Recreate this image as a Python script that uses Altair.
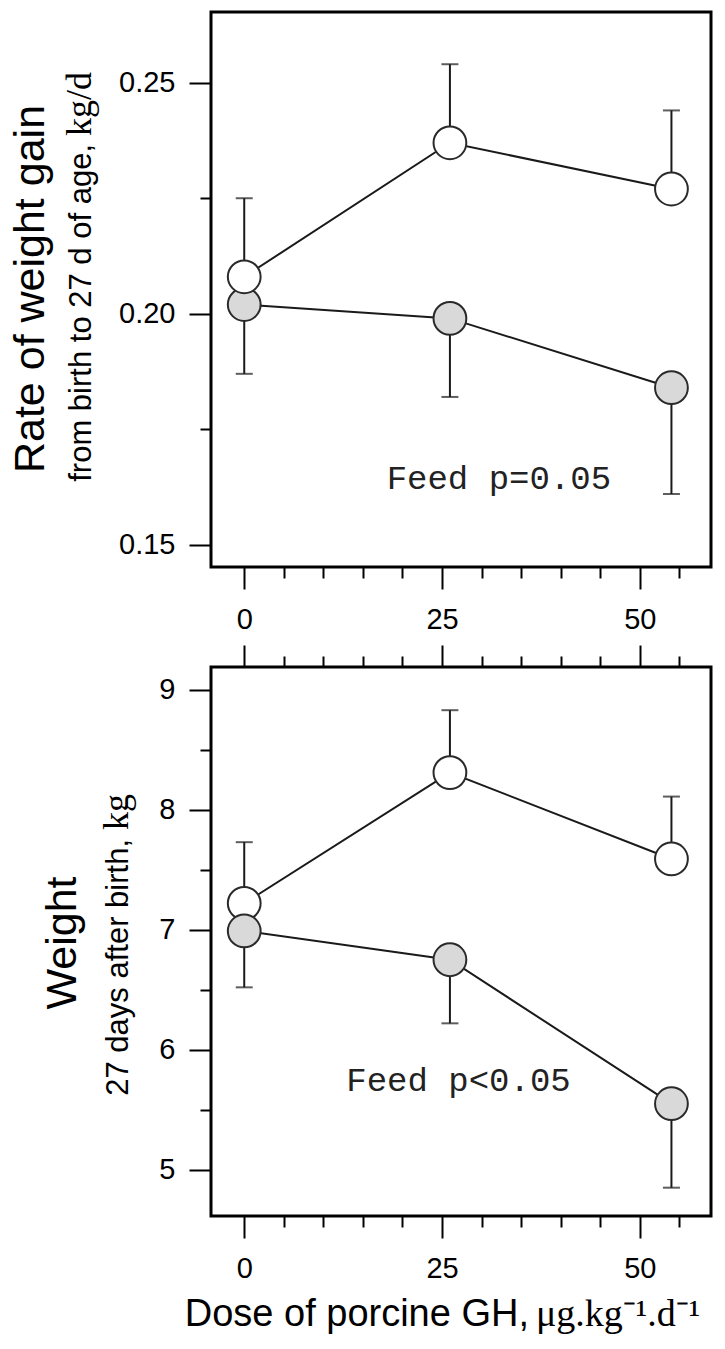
import altair as alt
import pandas as pd

# Dose of porcine GH (µg/kg/d) for each group mean
dose = [0, 26, 54]

# Rate of weight gain from birth to 27 d, kg/d
gain_open = [0.208, 0.237, 0.227]
gain_open_bar = [0.225, 0.254, 0.244]      # top of the error bar
gain_grey = [0.202, 0.199, 0.184]
gain_grey_bar = [0.187, 0.182, 0.161]      # bottom of the error bar

# Weight 27 days after birth, kg
weight_open = [7.22, 8.31, 7.59]
weight_open_bar = [7.73, 8.83, 8.11]
weight_grey = [6.99, 6.75, 5.55]
weight_grey_bar = [6.52, 6.22, 4.85]

x_ticks = list(range(0, 60, 5))
gain_ticks = [0.15, 0.175, 0.20, 0.225, 0.25]
weight_ticks = [5, 5.5, 6, 6.5, 7, 7.5, 8, 8.5, 9]

SANS = "Liberation Sans, Arial, Helvetica, sans-serif"
SERIF = "Liberation Serif, Times New Roman, serif"
MONO = "Courier New, Liberation Mono, monospace"
INK = "#1a1a1a"
GREY_FILL = "#d9d9d9"

PANEL_W = 500
X_DOMAIN = [-4.2, 59.0]
X_MAJOR = "datum.value % 25 === 0"


def x_axis(orient, labels):
    return alt.Axis(
        orient=orient,
        values=x_ticks,
        labels=labels,
        labelExpr=f"{X_MAJOR} ? datum.label : ''",
        tickSize={"condition": {"test": X_MAJOR, "value": 22}, "value": 11},
        labelPadding=16,
        title=None,
    )


def y_axis(ticks, major_test, label_format):
    return alt.Axis(
        orient="left",
        values=ticks,
        labelExpr=f"{major_test} ? format(datum.value, '{label_format}') : ''",
        tickSize={"condition": {"test": major_test, "value": 22}, "value": 11},
        labelPadding=14,
        title=None,
    )


def series(mean, bar):
    return pd.DataFrame({"dose": dose, "mean": mean, "bar": bar})


def rotated_text(text, x, y, size, font, align):
    return alt.Chart(pd.DataFrame({"t": [text]})).mark_text(
        angle=270, align=align, baseline="alphabetic", font=font,
        fontSize=size, color="black",
    ).encode(x=alt.value(x), y=alt.value(y), text="t:N")


def flat_text(text, x, y, size, font, align):
    return alt.Chart(pd.DataFrame({"t": [text]})).mark_text(
        align=align, baseline="alphabetic", font=font,
        fontSize=size, color="black",
    ).encode(x=alt.value(x), y=alt.value(y), text="t:N")


def panel(open_df, grey_df, y_scale, y_ax, height, open_on_top, top_axis,
          note, note_pos, extra):
    xs = alt.Scale(domain=X_DOMAIN, nice=False, zero=False)

    def X(axis):
        return alt.X("dose:Q", scale=xs, axis=axis, title=None)

    def Y(field="mean", axis=None):
        return alt.Y(f"{field}:Q", scale=y_scale, axis=axis, title=None)

    axis_layer = alt.Chart(open_df).mark_point(opacity=0).encode(
        x=X(x_axis("bottom", True)), y=Y(axis=y_ax))
    layers = [axis_layer]
    if top_axis:
        layers.append(alt.Chart(open_df).mark_point(opacity=0).encode(
            x=X(x_axis("top", False)), y=Y()))

    def bars(df):
        rule = alt.Chart(df).mark_rule(color=INK, strokeWidth=2).encode(
            x=X(None), y=Y(), y2="bar:Q")
        cap = alt.Chart(df).mark_tick(
            color=INK, orient="horizontal", size=17, thickness=2
        ).encode(x=X(None), y=Y("bar"))
        return [rule, cap]

    def line(df):
        return alt.Chart(df).mark_line(color=INK, strokeWidth=2).encode(
            x=X(None), y=Y())

    def dots(df, fill):
        return alt.Chart(df).mark_point(
            shape="circle", filled=True, fill=fill, stroke="#2a2a2a",
            strokeWidth=2, size=1075, opacity=1, fillOpacity=1,
        ).encode(x=X(None), y=Y())

    layers += bars(open_df) + bars(grey_df)
    layers += [line(open_df), line(grey_df)]
    if open_on_top:
        layers += [dots(grey_df, GREY_FILL), dots(open_df, "white")]
    else:
        layers += [dots(open_df, "white"), dots(grey_df, GREY_FILL)]

    note_df = pd.DataFrame({"dose": [note_pos[0]], "mean": [note_pos[1]],
                            "t": [note]})
    layers.append(alt.Chart(note_df).mark_text(
        align="left", baseline="alphabetic", font=MONO, fontSize=34,
        color="#222",
    ).encode(x=X(None), y=Y(), text="t:N"))
    layers += extra

    return alt.layer(*layers).resolve_axis(
        x="independent", y="independent"
    ).properties(width=PANEL_W, height=height)


gain_chart = panel(
    series(gain_open, gain_open_bar),
    series(gain_grey, gain_grey_bar),
    alt.Scale(domain=[0.1452, 0.2653], nice=False, zero=False),
    y_axis(gain_ticks,
           "abs(datum.value * 20 - round(datum.value * 20)) < 0.001", ".2f"),
    555, True, False,
    "Feed p=0.05", (18.0, 0.162),
    [
        rotated_text("Rate of weight gain", -167, 277, 43, SANS, "center"),
        rotated_text("from birth to 27 d of age,", -120, 132, 31, SANS, "right"),
        rotated_text("kg/d", -120, 124, 36, SERIF, "left"),
    ],
)

weight_chart = panel(
    series(weight_open, weight_open_bar),
    series(weight_grey, weight_grey_bar),
    alt.Scale(domain=[4.614, 9.19], nice=False, zero=False),
    y_axis(weight_ticks, "datum.value % 1 === 0", ".0f"),
    549, False, True,
    "Feed p<0.05", (12.9, 5.656),
    [
        rotated_text("Weight", -135, 276, 43, SANS, "center"),
        rotated_text("27 days after birth,", -83, 172, 31, SANS, "right"),
        rotated_text("kg", -83, 163, 36, SERIF, "left"),
        flat_text("Dose of porcine GH,", 318, 659, 38, SANS, "right"),
        flat_text("\u03bcg.kg\u207b\u00b9.d\u207b\u00b9", 325, 659, 38, SERIF, "left"),
    ],
)

chart = alt.vconcat(gain_chart, weight_chart, spacing=6).configure(
    padding={"left": 8, "top": 10, "right": 5, "bottom": 5},
).configure_view(
    stroke="black", strokeWidth=3,
).configure_axis(
    domain=False, grid=False, tickColor="black", tickWidth=2,
    labelFont=SANS, labelFontSize=29, labelColor="black",
)

chart.save("out.html", embed_options={"renderer": "svg", "actions": False})
